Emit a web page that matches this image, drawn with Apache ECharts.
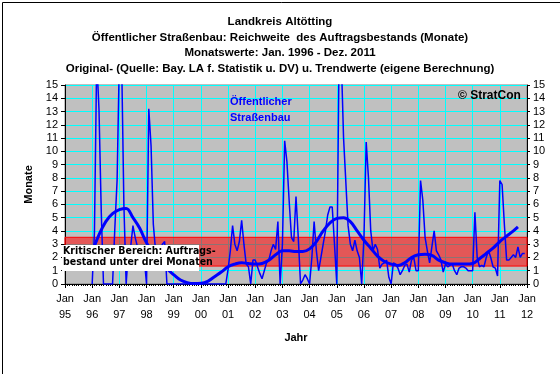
<!DOCTYPE html>
<html><head><meta charset="utf-8">
<script src="https://cdn.jsdelivr.net/npm/echarts@6/dist/echarts.min.js"></script>
<style>html,body{margin:0;padding:0;background:#fff}#c{width:560px;height:374px}</style>
</head><body><div id="c"></div>
<script>
// ---- data ----
const titleLines = ['Landkreis Altötting',
  'Öffentlicher Straßenbau: Reichweite  des Auftragsbestands (Monate)',
  'Monatswerte: Jan. 1996 - Dez. 2011',
  'Original- (Quelle: Bay. LA f. Statistik u. DV) u. Trendwerte (eigene Berechnung)'];
const yearLabels = ['95','96','97','98','99','00','01','02','03','04','05','06','07','08','09','10','11','12'];
const origStartMonth = 12; // Jan 1996, counted in months from Jan 1995
const origValues = [
  // 1996
  0, 3.9, 17, 13.2, 5.5, 0, 0, 0, 0, 0, 4.2, 7.8,
  // 1997
  17, 17, 6, 0, 2.5, 2.8, 4.4, 3.5, 2.8, 2.0, 1.5, 1.9,
  // 1998
  0, 13.2, 10.4, 4.5, 2.5, 2.0, 2.5, 3.0, 3.2, 0, 0, 0,
  // 1999
  0, 0, 0, 0, 0, 0, 0, 0, 0, 0, 0, 0,
  // 2000
  0, 0, 0, 0, 0, 0, 0, 0, 0, 0, 0, 0,
  // 2001
  1.1, 2.5, 4.4, 3.0, 2.5, 3.2, 4.8, 3.0, 1.5, 1.3, 0, 1.8,
  // 2002
  1.8, 1.3, 0.8, 0.4, 1.0, 1.6, 1.8, 2.5, 3.0, 2.6, 4.7, 0,
  // 2003
  3.0, 10.8, 9.2, 6.2, 3.5, 3.2, 6.6, 3.5, 0, 0.3, 0.7, 0.4,
  // 2004
  0, 2.0, 4.7, 2.5, 1.0, 2.0, 3.0, 4.0, 5.2, 5.8, 5.8, 3.0,
  // 2005
  0, 17, 17, 11, 7.7, 4.4, 3.0, 2.5, 3.3, 2.5, 2.0, 0,
  // 2006
  3.5, 10.7, 8.0, 4.0, 2.5, 3.0, 2.6, 1.2, 1.5, 1.6, 1.8, 0.5,
  // 2007
  0, 1.6, 1.5, 1.2, 0.7, 1.0, 1.4, 1.5, 0.9, 1.8, 2.0, 1.0,
  // 2008
  1.0, 7.8, 6.3, 3.5, 2.5, 1.6, 2.8, 4.0, 2.5, 2.2, 1.8, 0.9,
  // 2009
  1.5, 1.3, 1.4, 1.5, 1.0, 0.7, 1.2, 1.3, 1.3, 1.2, 1.0, 1.0,
  // 2010
  1.0, 5.4, 2.0, 1.3, 1.4, 1.3, 2.0, 2.5, 2.0, 1.3, 1.2, 0.6,
  // 2011
  7.8, 7.5, 4.5, 1.8, 1.8, 2.0, 2.2, 2.0, 2.8, 2.0, 2.3, 2.3
];
const trendMonths = [12,15,18,21,24,27,30,33,36,39,42,45,48,51,54,57,60,63,66,69,72,75,78,81,84,87,90,93,96,99,102,105,108,111,114,117,120,123,126,129,132,135,138,141,144,147,150,153,156,159,162,165,168,171,174,177,180,183,186,189,192,195,198,200];
const trendValues = [2.4,3.7,4.7,5.3,5.6,5.7,5.0,4.2,3.1,2.4,1.7,1.15,0.7,0.3,0.1,0.03,0.05,0.2,0.55,0.9,1.3,1.5,1.6,1.55,1.5,1.55,1.8,2.2,2.5,2.5,2.45,2.45,2.65,3.2,4.0,4.6,4.95,5.0,4.7,4.0,3.3,2.7,2.1,1.7,1.5,1.4,1.6,2.0,2.2,2.25,2.15,1.8,1.6,1.5,1.5,1.5,1.55,1.9,2.3,2.7,3.2,3.6,4.0,4.3];
const criticalLow = 1.35, criticalHigh = 3.52;

// ---- chart ----
const chart = echarts.init(document.getElementById('c'), null, {renderer:'canvas'});

const origData = origValues.map((v,i) => [origStartMonth + i, v]);
const trendData = trendMonths.map((m,i) => [m, trendValues[i]]);
const FONT = 'Liberation Sans, Arial, sans-serif';

const titleGraphics = titleLines.map((t,i) => ({
  type:'text', left:'center', top: 16 + i*15.5, zlevel:1,
  style:{text:t, font:'bold 11.5px ' + FONT, fill:'#000'}
}));

chart.setOption({
  animation:false,
  backgroundColor:'#fff',
  textStyle:{fontFamily:FONT},
  grid:{left:65, right:33, top:85, bottom:90, show:true, backgroundColor:'#C0C0C0', borderColor:'#808080', borderWidth:1},
  xAxis:{
    type:'value', min:0, max:204, interval:12,
    name:'Jahr', nameLocation:'middle', nameGap:48,
    nameTextStyle:{fontWeight:'bold', fontSize:11, color:'#000'},
    axisLine:{onZero:false, lineStyle:{color:'#000', width:1}},
    axisTick:{length:4, lineStyle:{color:'#000'}},
    minorTick:{show:true, splitNumber:12, length:2, lineStyle:{color:'#000'}},
    splitLine:{show:true, lineStyle:{color:'#00FFFF', width:1}},
    axisLabel:{color:'#000', fontSize:11, lineHeight:16, margin:7,
      formatter: v => 'Jan\n' + yearLabels[Math.round(v/12)]}
  },
  yAxis:[{
    type:'value', min:0, max:15, interval:1, position:'left',
    name:'Monate', nameLocation:'middle', nameGap:25, nameRotate:90,
    nameTextStyle:{fontWeight:'bold', fontSize:11, color:'#000'},
    axisLine:{show:true, lineStyle:{color:'#000'}},
    axisTick:{show:true, length:4, lineStyle:{color:'#000'}},
    splitLine:{show:true, lineStyle:{color:'#00FFFF', width:1}},
    axisLabel:{color:'#000', fontSize:11, margin:7}
  },{
    type:'value', min:0, max:15, interval:1, position:'right',
    axisLine:{show:true, lineStyle:{color:'#000'}},
    axisTick:{show:true, length:3, lineStyle:{color:'#000'}},
    splitLine:{show:false},
    axisLabel:{color:'#000', fontSize:11, margin:6}
  }],
  series:[
    {type:'line', name:'Original', data:origData, showSymbol:false, symbol:'none',
     lineStyle:{color:'#0000FF', width:1.5}, z:3, clip:true},
    {type:'line', name:'Trend', data:trendData, showSymbol:false, symbol:'none', smooth:0.4,
     lineStyle:{color:'#0000FF', width:3}, z:4, clip:true},
    {type:'line', name:'Band', data:[], z:10, silent:true,
     markArea:{silent:true, itemStyle:{color:'rgba(255,0,0,0.55)', borderColor:'#FF0000', borderWidth:1},
       data:[[{xAxis:0, yAxis:criticalLow},{xAxis:204, yAxis:criticalHigh}]]}}
  ],
  graphic: titleGraphics.concat([
    {type:'text', left:230, top:94, zlevel:1,
     style:{text:'Öffentlicher\nStraßenbau', font:'bold 11px ' + FONT, fill:'#0000FF', lineHeight:16}},
    {type:'text', left:458, top:90, zlevel:1,
     style:{text:'© StratCon', font:'bold 12px ' + FONT, fill:'#000'}},
    {type:'rect', left:62, top:245, zlevel:1, z:1, shape:{width:137, height:26}, style:{fill:'#fff'}},
    {type:'text', left:63, top:246, zlevel:1, z:2,
     style:{text:'Kritischer Bereich: Auftrags-\nbestand unter drei Monaten', font:'bold 10.5px DejaVu Sans Condensed, sans-serif', fill:'#000', lineHeight:11}},
    {type:'rect', left:0, top:0, zlevel:1, shape:{width:559, height:373}, style:{fill:null, stroke:'#000', lineWidth:1}}
  ])
});
</script></body></html>
